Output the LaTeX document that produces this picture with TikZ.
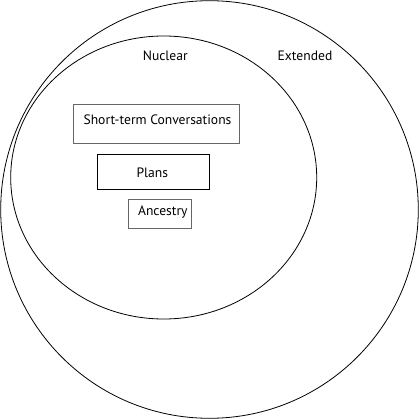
\documentclass[tikz,border=0pt]{standalone}
\usepackage{fontspec}
\setmainfont{PT Sans}
\begin{document}
\begin{tikzpicture}[x=1pt,y=-1pt,
  ring/.style={draw=black,line width=0.8pt},
  graybox/.style={draw=black!60,line width=1pt,inner sep=0pt},
  blackbox/.style={draw=black,line width=0.9pt,inner sep=0pt},
  lbl/.style={font=\fontsize{13.6}{15}\selectfont,inner sep=0pt}]
\useasboundingbox (0,0) rectangle (419,419);
\draw[ring] (209.5,209.5) circle[radius=208.8];
\draw[ring] (163.7,177.5) ellipse[x radius=153,y radius=141.5];
\node[lbl] (nuclear) at (165.3,56) {Nuclear};
\node[lbl] (extended) at (305,56) {Extended};
\node[graybox,minimum width=165.6pt,minimum height=39pt] (stc) at (156.5,123.8) {};
\node[lbl] (stctext) at (157.5,120) {Short-term Conversations};
\node[blackbox,minimum width=112.4pt,minimum height=35.4pt] (plans) at (153.5,172) {};
\node[lbl] (planstext) at (152.3,173) {Plans};
\node[graybox,minimum width=63pt,minimum height=29pt] (anc) at (159.8,213.8) {};
\node[lbl] (anctext) at (162.8,212) {Ancestry};
\end{tikzpicture}
\end{document}
